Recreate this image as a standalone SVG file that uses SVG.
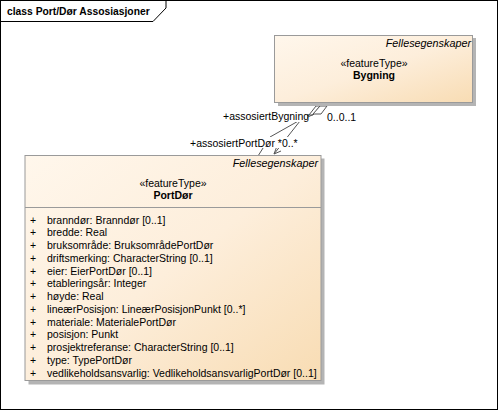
<svg xmlns="http://www.w3.org/2000/svg" width="499" height="411" viewBox="0 0 499 411">
<style>
text{font-family:"Liberation Sans",Arial,sans-serif;fill:#000}
.t{font-size:10.5px}
.it{font-size:10.8px;font-style:italic}
.b{font-weight:bold}
.box{stroke:#9a9a9a;stroke-width:1}
.sh{fill:#b4b4b4}
.ln{fill:none;stroke:#555;stroke-width:1}
.lbl{font-size:10.5px}
</style>
<defs>
<linearGradient id="g" x1="0" y1="0" x2="1" y2="1">
<stop offset="0" stop-color="#fff7ec"/>
<stop offset="0.5" stop-color="#fdeedb"/>
<stop offset="1" stop-color="#f8dcb3"/>
</linearGradient>
</defs>
<rect x="0.5" y="0.5" width="497" height="409" fill="#fff" stroke="#000"/>
<path d="M0.5 21.5 H153 L166 8 V0.5" fill="none" stroke="#000"/>
<text x="7" y="15" class="b" style="font-size:10.3px">class Port/Dør Assosiasjoner</text>

<g id="connectors">
<polygon points="316,106 320,106 313,115 309,115" fill="#fff" stroke="#555"/>
<polygon points="320,106 327,106 321,114 313,114" fill="#fff" stroke="#555"/>
<polyline class="ln" points="309,115 270,137 258,156"/>
<polyline class="ln" points="314,114 300,121 274,154"/>
<polyline class="ln" points="281,151 274,154 277,146"/>
<rect x="222" y="110" width="85" height="12" fill="#fff"/>
<text x="223" y="120" class="lbl">+assosiertBygning</text>
<text x="327" y="121" class="lbl">0..0..1</text>
<rect x="189" y="137" width="104" height="11" fill="#fff"/>
<text x="190" y="147" class="lbl">+assosiertPortDør *0..*</text>
</g>

<g id="Bygning">
<rect class="sh" x="278" y="38" width="198" height="68"/>
<rect class="box" x="274.5" y="35.5" width="198" height="67" fill="url(#g)"/>
<text x="471" y="47" class="it" text-anchor="end">Fellesegenskaper</text>
<text x="374" y="67" class="t" text-anchor="middle">«featureType»</text>
<text x="374" y="79" class="t b" text-anchor="middle">Bygning</text>
</g>

<g id="PortDor">
<rect class="sh" x="28.5" y="158.5" width="296" height="226"/>
<rect class="box" x="25" y="155.5" width="296" height="225" fill="url(#g)"/>
<line x1="25" y1="207.5" x2="321" y2="207.5" stroke="#9a9a9a"/>
<text x="318" y="167" class="it" text-anchor="end">Fellesegenskaper</text>
<text x="173" y="187" class="t" text-anchor="middle">«featureType»</text>
<text x="173" y="199" class="t b" text-anchor="middle">PortDør</text>
<g class="t">
<text x="30" y="223.5">+</text><text x="47" y="223.5">branndør: Branndør [0..1]</text>
<text x="30" y="236.2">+</text><text x="47" y="236.2">bredde: Real</text>
<text x="30" y="249">+</text><text x="47" y="249">bruksområde: BruksområdePortDør</text>
<text x="30" y="261.7">+</text><text x="47" y="261.7">driftsmerking: CharacterString [0..1]</text>
<text x="30" y="274.5">+</text><text x="47" y="274.5">eier: EierPortDør [0..1]</text>
<text x="30" y="287.2">+</text><text x="47" y="287.2">etableringsår: Integer</text>
<text x="30" y="300">+</text><text x="47" y="300">høyde: Real</text>
<text x="30" y="312.7">+</text><text x="47" y="312.7">lineærPosisjon: LineærPosisjonPunkt [0..*]</text>
<text x="30" y="325.5">+</text><text x="47" y="325.5">materiale: MaterialePortDør</text>
<text x="30" y="338.2">+</text><text x="47" y="338.2">posisjon: Punkt</text>
<text x="30" y="351">+</text><text x="47" y="351">prosjektreferanse: CharacterString [0..1]</text>
<text x="30" y="363.7">+</text><text x="47" y="363.7">type: TypePortDør</text>
<text x="30" y="376.5">+</text><text x="47" y="376.5">vedlikeholdsansvarlig: VedlikeholdsansvarligPortDør [0..1]</text>
</g>
</g>
</svg>
